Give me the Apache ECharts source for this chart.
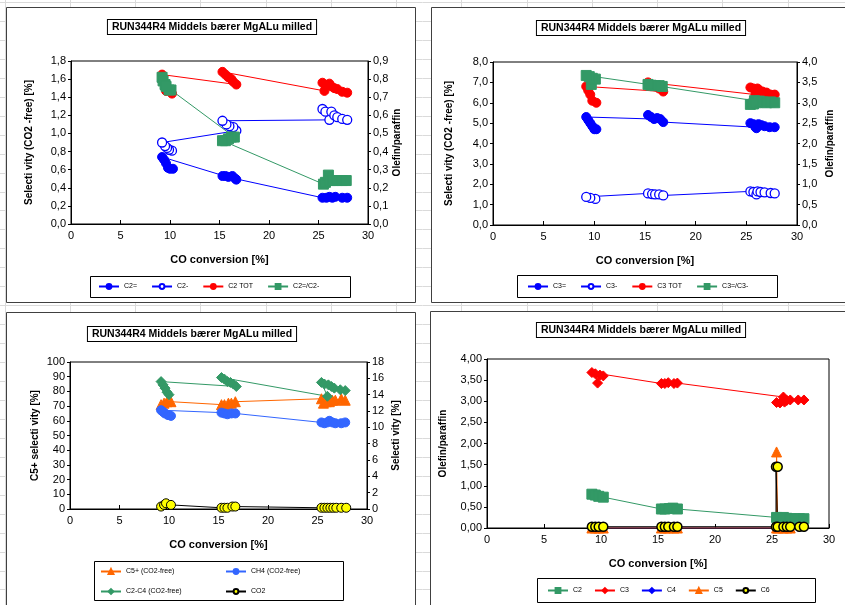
<!DOCTYPE html>
<html>
<head>
<meta charset="utf-8">
<script src="https://cdn.jsdelivr.net/npm/echarts@6/dist/echarts.min.js"></script>
<style>
  html, body { margin: 0; padding: 0; background: #fff; }
  #c { width: 845px; height: 605px; }
</style>
</head>
<body>
<div id="c"></div>
<script>
// ---------- data: [CO conversion %, value], in run order ----------
const titleText = 'RUN344R4 Middels bærer MgALu milled';
const xTitle = 'CO conversion [%]';

// C2 chart (left: selectivity %, right: olefin/paraffin)
const c2Olefin = [[10.3,0.61],[10.0,0.61],[9.8,0.62],[9.6,0.67],[9.4,0.71],[9.2,0.74],
  [16.7,0.49],[15.3,0.53],[15.6,0.53],[15.9,0.52],[16.3,0.53],[16.6,0.50],
  [25.4,0.29],[25.8,0.29],[26.1,0.30],[26.4,0.29],[26.7,0.30],[27.4,0.29],[27.9,0.29]];
const c2Paraffin = [[10.2,0.81],[9.9,0.82],[9.7,0.84],[9.5,0.86],[9.2,0.90],
  [16.7,1.03],[16.4,1.07],[16.0,1.08],[15.7,1.10],[15.3,1.14],
  [26.1,1.15],[25.4,1.27],[25.7,1.24],[26.3,1.24],[26.6,1.20],[26.9,1.18],[27.4,1.16],[27.9,1.15]];
const c2Total = [[10.2,1.44],[9.6,1.47],[9.2,1.65],
  [16.7,1.54],[16.4,1.57],[16.2,1.60],[15.9,1.62],[15.6,1.65],[15.3,1.68],
  [25.6,1.47],[25.4,1.56],[25.7,1.53],[26.1,1.55],[26.3,1.52],[26.6,1.50],[26.9,1.49],[27.4,1.46],[27.9,1.45]];
const c2Ratio = [[9.2,0.81],[9.3,0.79],[9.5,0.77],[10.1,0.74],[9.9,0.74],[9.6,0.76],
  [16.5,0.48],[16.2,0.48],[15.9,0.47],[15.6,0.46],[15.3,0.46],
  [25.5,0.22],[25.7,0.23],[26.0,0.27],[26.2,0.24],[26.5,0.24],[26.9,0.24],[27.4,0.24],[27.8,0.24]];

// C3 chart
const c3Olefin = [[10.2,4.70],[10.0,4.70],[9.8,4.85],[9.6,5.00],[9.4,5.15],[9.2,5.30],
  [15.9,5.20],[15.6,5.30],[15.3,5.40],[16.2,5.25],[16.5,5.20],[16.8,5.05],
  [25.9,4.80],[25.4,5.00],[25.7,4.95],[26.0,4.75],[26.2,4.95],[26.5,4.90],[26.8,4.85],[27.3,4.80],[27.8,4.80]];
const c3Paraffin = [[10.1,1.28],[9.6,1.33],[9.2,1.38],
  [15.3,1.55],[15.7,1.52],[16.0,1.50],[16.4,1.50],[16.8,1.45],
  [25.4,1.65],[25.7,1.62],[26.0,1.50],[26.1,1.65],[26.4,1.62],[26.8,1.60],[27.4,1.57],[27.8,1.55]];
const c3Total = [[10.2,6.00],[9.8,6.10],[9.6,6.40],[9.4,6.60],[9.2,6.80],
  [16.8,6.55],[16.4,6.70],[16.0,6.80],[15.6,6.90],[15.3,7.00],
  [25.9,6.40],[25.4,6.75],[25.7,6.70],[26.1,6.70],[26.3,6.60],[26.6,6.55],[27.0,6.50],[27.4,6.40],[27.8,6.40]];
const c3Ratio = [[9.7,3.45],[10.1,3.58],[9.8,3.60],[9.5,3.64],[9.2,3.67],
  [16.7,3.40],[16.4,3.42],[16.0,3.42],[15.6,3.43],[15.3,3.45],
  [25.8,3.05],[25.4,2.96],[25.7,2.97],[26.0,3.00],[26.3,3.04],[26.6,3.02],[27.0,3.00],[27.4,3.02],[27.8,3.00]];

// product selectivity chart (C5+ on left axis, the rest on right axis)
const c5plus = [[9.2,71],[9.5,72],[9.8,73],[10.2,73],
  [15.3,71],[15.6,71],[16.0,72],[16.3,72],[16.7,73],
  [25.4,75],[25.6,72],[25.9,73],[26.2,73],[26.5,74],[26.8,74],[27.4,75],[27.8,74]];
const ch4 = [[10.2,11.4],[9.9,11.5],[9.6,11.7],[9.4,11.9],[9.2,12.1],
  [15.3,11.8],[15.6,11.7],[15.9,11.6],[16.3,11.7],[16.7,11.7],
  [25.4,10.6],[25.7,10.5],[26.0,10.6],[26.2,10.8],[26.5,10.6],[26.8,10.5],[27.4,10.5],[27.8,10.6]];
const c2c4 = [[10.0,14.0],[9.8,14.3],[9.6,14.8],[9.4,15.2],[9.2,15.6],
  [16.8,15.0],[16.5,15.3],[16.2,15.5],[15.9,15.6],[15.6,15.9],[15.3,16.1],
  [26.0,13.8],[25.4,15.5],[25.7,15.3],[26.1,15.2],[26.4,15.0],[26.7,14.8],[27.3,14.6],[27.8,14.5]];
const co2 = [[9.2,0.3],[9.5,0.5],[9.7,0.7],[10.2,0.5],
  [15.3,0.15],[15.6,0.15],[15.9,0.15],[16.4,0.3],[16.7,0.3],
  [25.4,0.15],[25.7,0.15],[26.0,0.15],[26.3,0.15],[26.6,0.15],[26.9,0.15],[27.4,0.15],[27.9,0.15]];

// olefin/paraffin by carbon number
const opC2 = [[9.2,0.80],[9.5,0.78],[9.8,0.75],[10.2,0.73],
  [15.3,0.45],[15.6,0.45],[16.0,0.46],[16.3,0.47],[16.7,0.45],
  [25.4,0.25],[25.7,0.22],[26.0,0.25],[26.3,0.23],[26.6,0.22],[27.0,0.22],[27.4,0.22],[27.8,0.22]];
const opC3 = [[10.2,3.60],[9.9,3.62],[9.7,3.43],[9.5,3.65],[9.2,3.68],
  [15.3,3.42],[15.6,3.42],[15.9,3.44],[16.4,3.42],[16.7,3.43],
  [26.0,3.10],[25.4,2.97],[25.7,2.96],[26.1,2.98],[26.3,3.02],[26.6,3.03],[27.3,3.03],[27.8,3.03]];
const opC4 = [[9.2,0],[9.5,0],[9.8,0],[10.2,0],
  [15.3,0],[15.6,0],[15.9,0],[16.4,0],[16.7,0],
  [25.4,0],[26.0,0],[26.3,0],[26.6,0],[27.4,0],[27.8,0]];
const opC5 = [[9.2,0],[9.5,0],[9.8,0],[10.2,0],
  [15.3,0],[15.6,0],[15.9,0],[16.4,0],[16.7,0],
  [25.4,0],[25.4,1.8],[25.5,0],[26.0,0],[26.3,0],[26.6,0]];
const opC6 = [[9.2,0.03],[9.5,0.03],[9.8,0.03],[10.2,0.03],
  [15.3,0.03],[15.6,0.03],[15.9,0.03],[16.4,0.03],[16.7,0.03],
  [25.35,0.03],[25.35,1.45],[25.5,1.45],[25.5,0.03],[26.0,0.03],[26.3,0.03],[26.6,0.03],[27.4,0.03],[27.8,0.03]];

// ---------- styling ----------
const FONT = '"Liberation Sans", Arial, Helvetica, sans-serif';
const BLUE = '#0000ff', RED = '#ff0000', GREEN = '#339966', ORANGE = '#ff6600',
      LBLUE = '#3366ff', YELLOW = '#ffff00', BLACK = '#000000';

const grids = [
  { left: 71,  top: 61,  width: 297, height: 163 },
  { left: 493, top: 62,  width: 304, height: 163 },
  { left: 70,  top: 362, width: 297, height: 147 },
  { left: 487, top: 359, width: 342, height: 169 }
];

const comma = d => v => v.toFixed(d).replace('.', ',');

function xAx(g) {
  return {
    type: 'value', gridIndex: g, min: 0, max: 30, interval: 5,
    name: xTitle, nameLocation: 'middle', nameGap: 30,
    nameTextStyle: { fontFamily: FONT, fontSize: 11, fontWeight: 'bold', color: '#000' },
    axisLine: { lineStyle: { color: '#000', width: 1 } },
    axisTick: { inside: true, length: 4, lineStyle: { color: '#000' } },
    axisLabel: { fontFamily: FONT, fontSize: 11, color: '#000', margin: 6 },
    splitLine: { show: false }
  };
}
function yAx(g, pos, max, step, fmt, name, gap) {
  return {
    type: 'value', gridIndex: g, position: pos, min: 0, max: max, interval: step,
    name: name, nameLocation: 'middle', nameGap: gap,
    nameTextStyle: { fontFamily: FONT, fontSize: 10, fontWeight: 'bold', color: '#000' },
    axisLine: { show: true, lineStyle: { color: '#000', width: 1 } },
    axisTick: { show: true, inside: false, length: 3, lineStyle: { color: '#000' } },
    axisLabel: { fontFamily: FONT, fontSize: 11, color: '#000', margin: 5, formatter: fmt },
    splitLine: { show: false }
  };
}

function ser(name, data, xi, yi, color, symbol, size, opt) {
  opt = opt || {};
  return {
    type: 'line', name: name, data: data, xAxisIndex: xi, yAxisIndex: yi,
    symbol: symbol, symbolSize: size, showAllSymbol: true,
    lineStyle: { color: opt.line || color, width: 1 },
    itemStyle: { color: opt.fill || color, borderColor: opt.border || color, borderWidth: opt.bw || 1 },
    emphasis: { disabled: true }, z: opt.z || 2
  };
}

const series = [
  ser('C2=', c2Olefin, 0, 0, BLUE, 'circle', 9),
  ser('C2-', c2Paraffin, 0, 0, BLUE, 'circle', 9, { fill: '#fff', bw: 1.3 }),
  ser('C2 TOT', c2Total, 0, 0, RED, 'circle', 9),
  ser('C2=/C2-', c2Ratio, 0, 1, GREEN, 'rect', 10),

  ser('C3=', c3Olefin, 1, 2, BLUE, 'circle', 9),
  ser('C3-', c3Paraffin, 1, 2, BLUE, 'circle', 9, { fill: '#fff', bw: 1.3 }),
  ser('C3 TOT', c3Total, 1, 2, RED, 'circle', 9),
  ser('C3=/C3-', c3Ratio, 1, 3, GREEN, 'rect', 10),

  ser('C5+ (CO2-free)', c5plus, 2, 4, ORANGE, 'triangle', 10),
  ser('CH4 (CO2-free)', ch4, 2, 5, LBLUE, 'circle', 9),
  ser('C2-C4 (CO2-free)', c2c4, 2, 5, GREEN, 'diamond', 10),
  ser('CO2', co2, 2, 5, BLACK, 'circle', 9, { fill: YELLOW, border: BLACK, bw: 1 }),

  ser('C2', opC2, 3, 6, GREEN, 'rect', 10),
  ser('C3', opC3, 3, 6, RED, 'diamond', 10),
  ser('C4', opC4, 3, 6, BLUE, 'diamond', 8),
  ser('C5', opC5, 3, 6, ORANGE, 'triangle', 10),
  ser('C6', opC6, 3, 6, BLACK, 'circle', 9, { fill: YELLOW, border: BLACK, bw: 1.5 })
];

function leg(names, left, top, gap, extra) {
  return Object.assign({
    data: names, left: left, top: top, orient: 'horizontal',
    itemWidth: 20, itemHeight: 6, itemGap: gap, padding: 0,
    textStyle: { fontFamily: FONT, fontSize: 7, color: '#000' },
    selectedMode: false
  }, extra || {});
}

// spreadsheet cell lines behind the chart objects
const bg = [];
for (let k = 0; k < 14; k++) {
  const x = Math.round(4.5 + 65.25 * k) + 0.5;
  bg.push({ type: 'line', z: -100, shape: { x1: x, y1: 0, x2: x, y2: 605 }, style: { stroke: '#dadada', lineWidth: 1 } });
}
for (let k = 0; k < 33; k++) {
  const y = Math.round(2 + 18.95 * k) + 0.5;
  bg.push({ type: 'line', z: -100, shape: { x1: 0, y1: y, x2: 845, y2: y }, style: { stroke: '#dadada', lineWidth: 1 } });
}
const panels = [[6.5, 7.5, 409, 295], [431.5, 7.5, 440, 295], [6.5, 312.5, 409, 300], [430.5, 311.5, 440, 300]];
panels.forEach(p => bg.push({ type: 'rect', z: -90, shape: { x: p[0], y: p[1], width: p[2], height: p[3] },
  style: { fill: '#fff', stroke: '#404040', lineWidth: 1 } }));
const legendBoxes = [[90.5, 276.5, 260, 21], [517.5, 275.5, 260, 22], [94.5, 561.5, 249, 39], [537.5, 578.5, 278, 24]];
legendBoxes.forEach(p => bg.push({ type: 'rect', z: -80, shape: { x: p[0], y: p[1], width: p[2], height: p[3] },
  style: { fill: '#fff', stroke: '#000', lineWidth: 1 } }));
const titlePos = [[212, 27], [641, 28], [192, 334], [641, 330]];
titlePos.forEach(p => bg.push({ type: 'text', z: 100, x: p[0], y: p[1],
  style: { text: titleText, font: 'bold 10.5px ' + FONT, fill: '#000', align: 'center', verticalAlign: 'middle',
    backgroundColor: '#fff', borderColor: '#000', borderWidth: 1, padding: [2, 4, 1, 4] } }));

const chart = echarts.init(document.getElementById('c'), null, { renderer: 'canvas' });
chart.setOption({
  animation: false,
  backgroundColor: '#fff',
  grid: grids.map(g => Object.assign({ show: true, borderColor: '#000', borderWidth: 1, backgroundColor: 'transparent' }, g)),
  xAxis: [xAx(0), xAx(1), xAx(2), xAx(3)],
  yAxis: [
    yAx(0, 'left', 1.8, 0.2, comma(1), 'Selecti vity (CO2 -free) [%]', 37),
    yAx(0, 'right', 0.9, 0.1, comma(1), 'Olefin/paraffin', 24),
    yAx(1, 'left', 8, 1, comma(1), 'Selecti vity (CO2 -free) [%]', 39),
    yAx(1, 'right', 4, 0.5, comma(1), 'Olefin/paraffin', 28),
    yAx(2, 'left', 100, 10, v => String(v), 'C5+ selecti vity [%]', 30),
    yAx(2, 'right', 18, 2, v => String(v), 'Selecti vity [%]', 24),
    yAx(3, 'left', 4, 0.5, comma(2), 'Olefin/paraffin', 39)
  ],
  legend: [
    leg(['C2=', 'C2-', 'C2 TOT', 'C2=/C2-'], 98, 283, 14),
    leg(['C3=', 'C3-', 'C3 TOT', 'C3=/C3-'], 527, 283, 14),
    leg(['C5+ (CO2-free)', 'C2-C4 (CO2-free)'], 100, 568, 13, { orient: 'vertical' }),
    leg(['CH4 (CO2-free)', 'CO2'], 225, 568, 13, { orient: 'vertical' }),
    leg(['C2', 'C3', 'C4', 'C5', 'C6'], 547, 587, 12)
  ],
  graphic: { elements: bg },
  series: series
});
</script>
</body>
</html>
